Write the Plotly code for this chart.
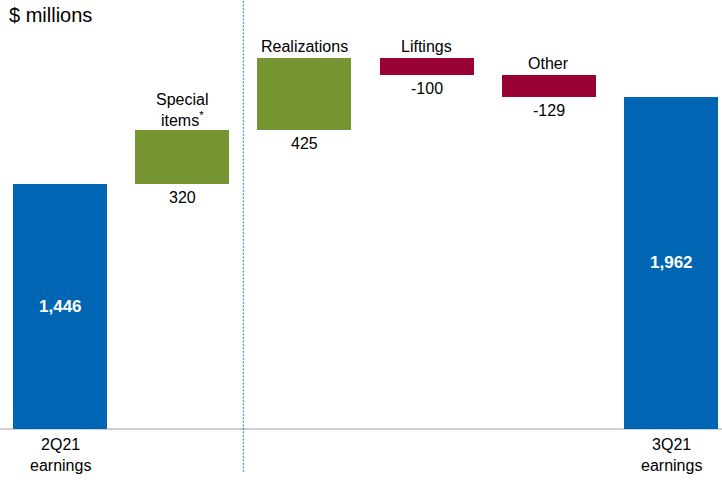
import plotly.graph_objects as go

# Earnings walk, $ millions
steps = ["2Q21<br>earnings", "Special<br>items<sup>*</sup>", "Realizations", "Liftings", "Other", "3Q21<br>earnings"]
values = [1446, 320, 425, -100, -129, 1962]
kinds = ["total", "delta", "delta", "delta", "delta", "total"]

BLUE = "#0066B3"
GREEN = "#779432"
RED = "#990033"
FONT = "Liberation Sans, Arial, sans-serif"

# Floating bar bases from the running total
bases, heights, colors = [], [], []
running = 0
for v, k in zip(values, kinds):
    if k == "total":
        bases.append(0)
        heights.append(v)
        colors.append(BLUE)
        running = v
    else:
        if v >= 0:
            bases.append(running)
            colors.append(GREEN)
        else:
            bases.append(running + v)
            colors.append(RED)
        heights.append(abs(v))
        running += v

xs = list(range(len(values)))

fig = go.Figure(go.Bar(
    x=xs, y=heights, base=bases, width=0.77,
    marker=dict(color=colors, line=dict(width=0)),
    hoverinfo="skip",
))

annotations = []
for i, (v, k, b, h) in enumerate(zip(values, kinds, bases, heights)):
    label = f"{v:,}"
    if k == "total":
        annotations.append(dict(
            x=i, y=b + h / 2, text=f"<b>{label}</b>", showarrow=False,
            font=dict(family=FONT, size=17, color="white"),
            xanchor="center", yanchor="middle",
        ))
        annotations.append(dict(
            x=i, y=0, text=steps[i], showarrow=False,
            font=dict(family=FONT, size=16, color="#000000"),
            xanchor="center", yanchor="top", yshift=-5,
        ))
    else:
        annotations.append(dict(
            x=i, y=b + h, text=steps[i], showarrow=False,
            font=dict(family=FONT, size=16, color="#000000"),
            xanchor="center", yanchor="bottom", yshift=(-1 if "<br>" in steps[i] else 1),
        ))
        annotations.append(dict(
            x=i, y=b, text=label, showarrow=False,
            font=dict(family=FONT, size=16, color="#000000"),
            xanchor="center", yanchor="top", yshift=-3,
        ))

annotations.append(dict(
    x=0.01, y=1.0, xref="paper", yref="paper", text="$ millions", showarrow=False,
    font=dict(family=FONT, size=20, color="#000000"),
    xanchor="left", yanchor="top", yshift=-2,
))

shapes = [
    # baseline
    dict(type="line", xref="paper", yref="y", x0=0, x1=1, y0=0, y1=0,
         line=dict(color="#BFBFBF", width=1.5), layer="below"),
    # divider between the special items and the operating drivers
    dict(type="line", xref="x", yref="paper", x0=1.5, x1=1.5, y0=0.021, y1=1,
         line=dict(color="#2E75B6", width=1, dash="2px,1.5px")),
]

fig.update_layout(
    width=722, height=482,
    margin=dict(l=0, r=0, t=0, b=0),
    paper_bgcolor="white", plot_bgcolor="white",
    showlegend=False,
    bargap=0,
    annotations=annotations,
    shapes=shapes,
    xaxis=dict(range=[-0.491, 5.417], visible=False, fixedrange=True),
    yaxis=dict(range=[-313, 2533], visible=False, fixedrange=True),
)

fig.write_html("out.html")
